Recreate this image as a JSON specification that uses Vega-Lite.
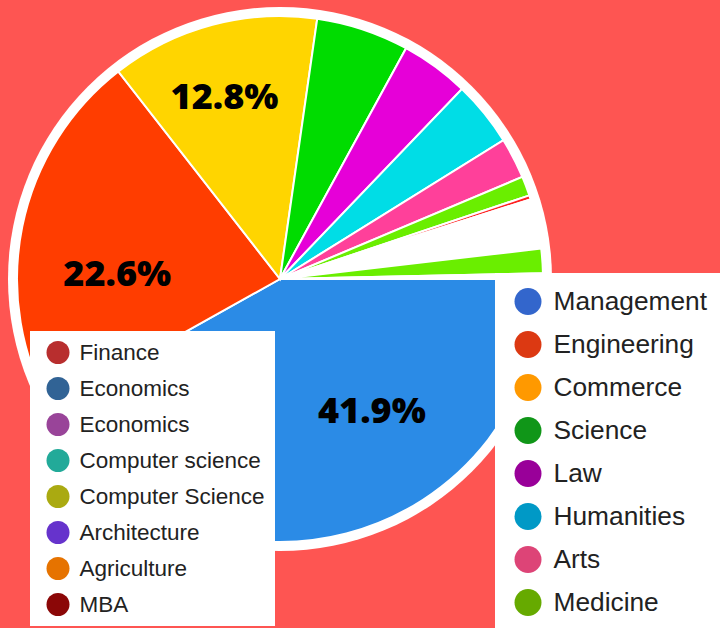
{
  "$schema": "https://vega.github.io/schema/vega-lite/v6.json",
  "width": 560,
  "height": 558,
  "padding": 0,
  "background": "#fe5552",
  "config": {"view": {"stroke": null}},
  "data": {
    "values": [
      {"idx": 1, "slice": "Management", "value": 0.419},
      {"idx": 2, "slice": "Engineering", "value": 0.226},
      {"idx": 3, "slice": "Commerce", "value": 0.128},
      {"idx": 4, "slice": "Science", "value": 0.057},
      {"idx": 5, "slice": "Law", "value": 0.042},
      {"idx": 6, "slice": "Humanities", "value": 0.040},
      {"idx": 7, "slice": "Arts", "value": 0.025},
      {"idx": 8, "slice": "Medicine", "value": 0.012},
      {"idx": 9, "slice": "Finance", "value": 0.0025},
      {"idx": 10, "slice": "Economics", "value": 0.0305},
      {"idx": 11, "slice": "Computer science", "value": 0.015},
      {"idx": 12, "slice": "Architecture", "value": 0.0035}
    ]
  },
  "layer": [
    {
      "data": {"values": [{"ring": "outer"}]},
      "mark": {"type": "arc", "radius": 272, "theta": 0, "theta2": 6.2832, "fill": "white"},
      "encoding": {}
    },
    {
      "mark": {"type": "arc", "radius": 263, "stroke": "white", "strokeWidth": 2},
      "encoding": {
        "theta": {"field": "value", "type": "quantitative", "stack": true, "scale": {"range": [1.5707963, 7.8539816], "nice": false, "zero": true}},
        "order": {"field": "idx", "type": "quantitative"},
        "fill": {
          "field": "slice", "type": "nominal", "legend": null,
          "scale": {
            "domain": ["Management", "Engineering", "Commerce", "Science", "Law", "Humanities", "Arts", "Medicine", "Finance", "Economics", "Computer science", "Architecture"],
            "range": ["#2b8be6", "#ff3d00", "#ffd500", "#00dc00", "#e600d8", "#00dde6", "#ff409a", "#6aee00", "#ff2020", "#ffffff", "#6aee00", "#ffffff"]
          }
        }
      }
    },
    {
      "mark": {"type": "text", "radius": 162, "dx": 51, "dy": -24, "font": "Open Sans", "fontWeight": 800, "fontSize": 36, "fill": "black"},
      "encoding": {
        "theta": {"field": "value", "type": "quantitative", "stack": true},
        "order": {"field": "idx", "type": "quantitative"},
        "text": {"condition": {"test": "datum.slice === 'Management'", "field": "value", "type": "quantitative", "format": ".1%"}, "value": ""}
      }
    },
    {
      "mark": {"type": "text", "radius": 163, "dx": -3, "dy": 28, "font": "Open Sans", "fontWeight": 800, "fontSize": 36, "fill": "black"},
      "encoding": {
        "theta": {"field": "value", "type": "quantitative", "stack": true},
        "order": {"field": "idx", "type": "quantitative"},
        "text": {"condition": {"test": "datum.slice === 'Engineering'", "field": "value", "type": "quantitative", "format": ".1%"}, "value": ""}
      }
    },
    {
      "mark": {"type": "text", "radius": 189, "dx": -7, "dy": 2, "font": "Open Sans", "fontWeight": 800, "fontSize": 36, "fill": "black"},
      "encoding": {
        "theta": {"field": "value", "type": "quantitative", "stack": true},
        "order": {"field": "idx", "type": "quantitative"},
        "text": {"condition": {"test": "datum.slice === 'Commerce'", "field": "value", "type": "quantitative", "format": ".1%"}, "value": ""}
      }
    },
    {
      "data": {"values": [
        {"name": "Management"}, {"name": "Engineering"}, {"name": "Commerce"}, {"name": "Science"},
        {"name": "Law"}, {"name": "Humanities"}, {"name": "Arts"}, {"name": "Medicine"}
      ]},
      "mark": {"type": "circle", "opacity": 0},
      "encoding": {
        "color": {
          "field": "name", "type": "nominal",
          "scale": {
            "domain": ["Management", "Engineering", "Commerce", "Science", "Law", "Humanities", "Arts", "Medicine"],
            "range": ["#3366cc", "#dc3912", "#ff9900", "#109618", "#990099", "#0099c6", "#dd4477", "#66aa00"]
          },
          "legend": {
            "orient": "none", "legendX": 495, "legendY": 273, "title": null,
            "fillColor": "white", "strokeColor": null, "padding": 15,
            "symbolType": "circle", "symbolSize": 729, "symbolStrokeWidth": 0, "symbolOpacity": 1, "symbolOffset": 4.5,
            "labelFont": "Liberation Sans", "labelFontSize": 26.3, "labelColor": "#222222",
            "labelOffset": 12, "rowPadding": 16, "labelLimit": 400
          }
        }
      }
    },
    {
      "data": {"values": [
        {"name": "Finance"}, {"name": "Economics"}, {"name": "Economics "}, {"name": "Computer science"},
        {"name": "Computer Science"}, {"name": "Architecture"}, {"name": "Agriculture"}, {"name": "MBA"}
      ]},
      "mark": {"type": "circle", "opacity": 0},
      "encoding": {
        "color": {
          "field": "name", "type": "nominal",
          "scale": {
            "domain": ["Finance", "Economics", "Economics ", "Computer science", "Computer Science", "Architecture", "Agriculture", "MBA"],
            "range": ["#b82e2e", "#316395", "#994499", "#22aa99", "#aaaa11", "#6633cc", "#e67300", "#8b0707"]
          },
          "legend": {
            "orient": "none", "legendX": 30, "legendY": 331, "title": null,
            "fillColor": "white", "strokeColor": null, "padding": 10,
            "symbolType": "circle", "symbolSize": 529, "symbolStrokeWidth": 0, "symbolOpacity": 1, "symbolOffset": 6.5,
            "labelFont": "Liberation Sans", "labelFontSize": 22.5, "labelColor": "#222222",
            "labelOffset": 10, "rowPadding": 13, "labelLimit": 400
          }
        }
      }
    }
  ],
  "resolve": {"scale": {"color": "independent"}}
}
